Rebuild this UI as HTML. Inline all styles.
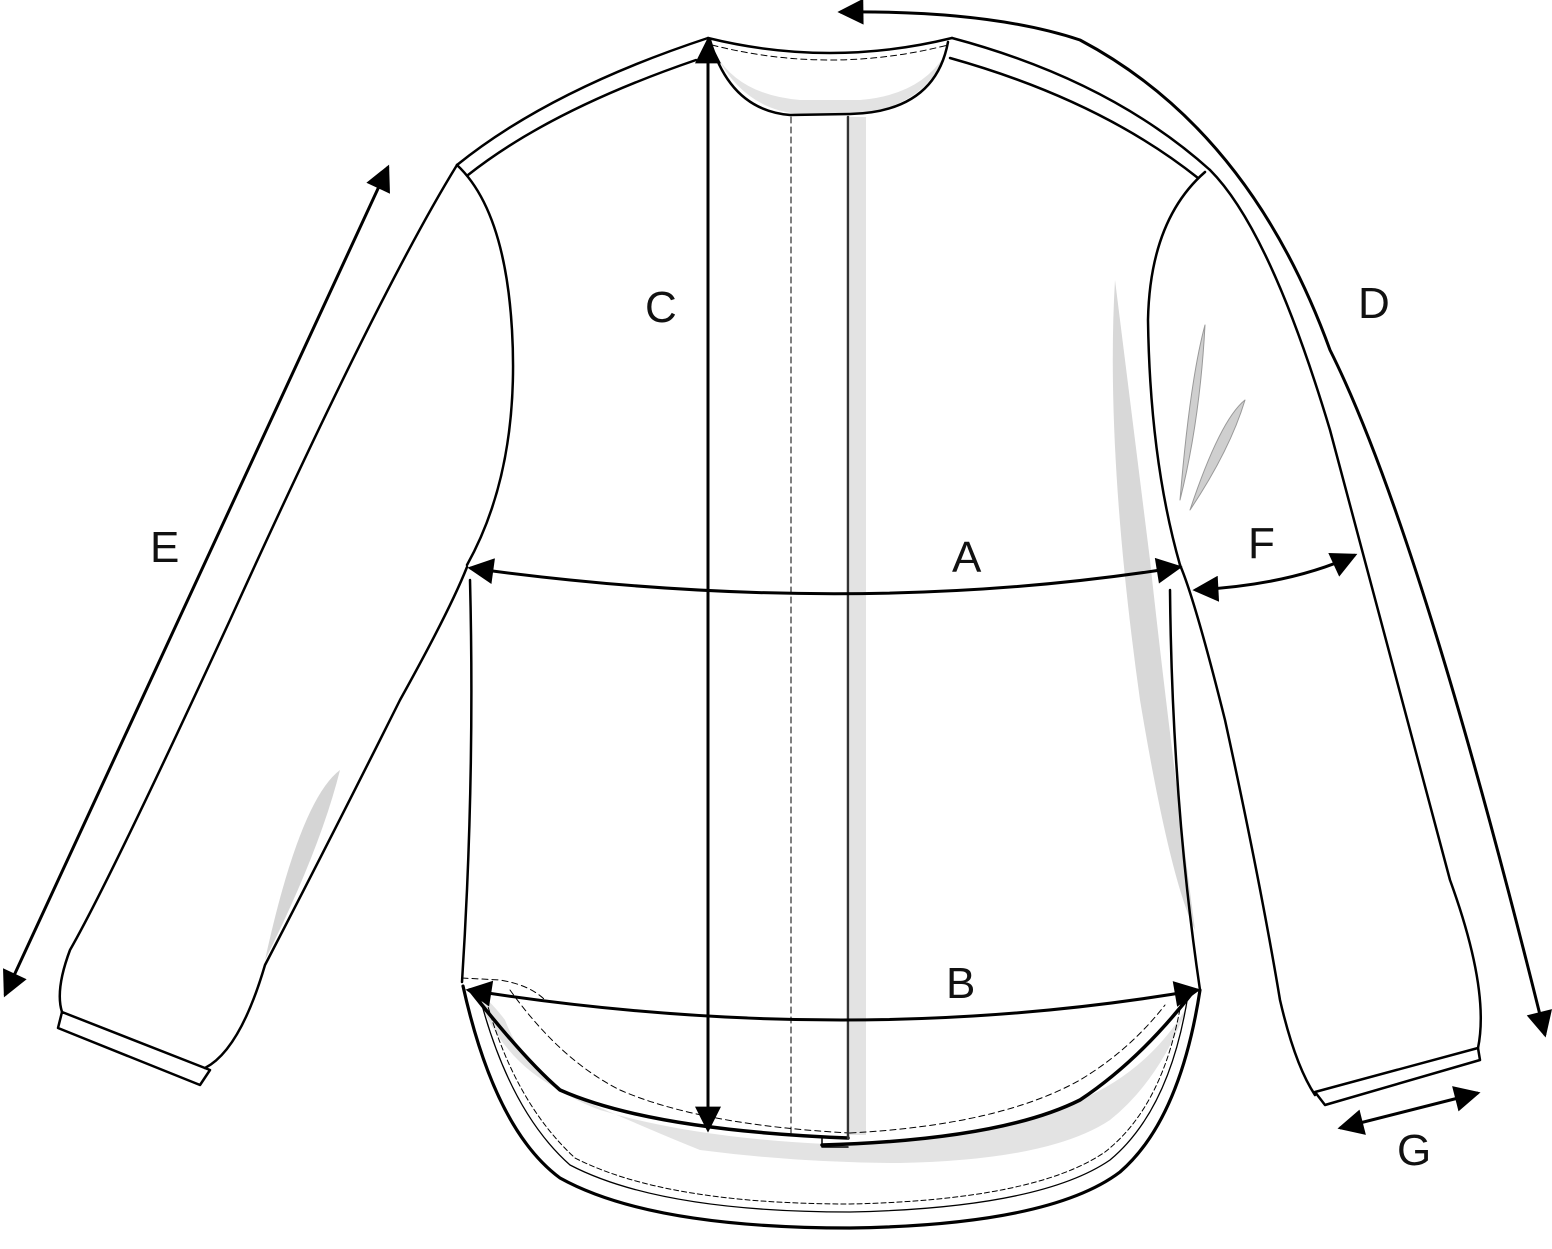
<!DOCTYPE html>
<html><head><meta charset="utf-8"><style>
html,body{margin:0;padding:0;background:#fff}
svg{display:block}
text{font-family:"Liberation Sans",sans-serif;font-size:44px;fill:#111}
</style></head><body>
<svg width="1552" height="1249" viewBox="0 0 1552 1249" xmlns="http://www.w3.org/2000/svg">
<defs>
<marker id="ah2" viewBox="0 0 10 10" refX="9" refY="5" markerWidth="36" markerHeight="26" orient="auto-start-reverse" markerUnits="userSpaceOnUse">
<path d="M0,0 L10,5 L0,10 z" fill="#000"/>
</marker>
</defs>
<g fill="none" stroke="#000" stroke-width="2.5" stroke-linejoin="round" stroke-linecap="round">
<!-- grey shadings -->
<path d="M850,117 L866,117 L866,1135 L850,1135 z" fill="#e3e3e3" stroke="none"/>
<path d="M716,55 Q745,110 800,114 L860,114 Q925,105 945,55 Q920,95 860,100 L800,100 Q740,95 716,55z" fill="#e3e3e3" stroke="none"/>
<path d="M1115,280 Q1105,450 1140,700 Q1170,880 1195,930 Q1165,700 1150,560 Q1130,400 1115,280z" fill="#d8d8d8" stroke="none"/>
<path d="M1180,500 Q1190,380 1205,325 Q1200,420 1180,500z" fill="#cfcfcf" stroke="#999" stroke-width="1"/>
<path d="M1190,510 Q1220,420 1245,400 Q1230,450 1190,510z" fill="#cfcfcf" stroke="#999" stroke-width="1"/>
<path d="M265,960 Q300,800 340,770 Q320,850 265,960z" fill="#d5d5d5" stroke="none"/>
<path d="M475,990 Q500,1060 560,1090 Q650,1130 700,1150 Q800,1163 900,1163 Q1050,1160 1110,1120 Q1160,1080 1188,1005 Q1150,1070 1080,1100 Q1000,1140 850,1145 Q700,1140 600,1110 Q530,1085 505,1020 Q490,1000 475,990z" fill="#e3e3e3" stroke="none"/>

<!-- neckline -->
<path d="M708,38 Q830,68 952,38"/>
<path d="M712,45 Q830,75 948,45" stroke-width="1" stroke-dasharray="6,4"/>
<path d="M710,40 Q730,110 790,115 L850,114 Q935,112 948,42"/>
<!-- shoulders -->
<path d="M708,38 Q550,90 457,165"/>
<path d="M696,60 Q550,110 468,175"/>
<path d="M952,38 Q1110,80 1210,170"/>
<path d="M950,58 Q1100,100 1198,178"/>
<!-- armholes -->
<path d="M457,165 Q505,210 512,330 Q520,470 467,565"/>
<path d="M1205,172 Q1150,220 1148,320 Q1150,460 1180,565"/>
<!-- body sides -->
<path d="M470,580 Q475,780 462,982"/>
<path d="M1170,590 Q1172,800 1200,990"/>
<path d="M462,978 L500,980 Q530,985 545,1000" stroke-width="1" stroke-dasharray="6,4"/>
<!-- left sleeve -->
<path d="M457,165 Q380,290 230,620 Q110,880 70,950 Q55,990 62,1012"/>
<path d="M62,1012 L210,1070 L200,1085 L58,1028 z"/>
<path d="M467,567 Q450,610 400,700 Q330,840 265,965 Q240,1050 205,1068"/>
<!-- right sleeve -->
<path d="M1210,170 Q1270,230 1330,430 Q1420,770 1450,880 Q1490,990 1478,1048"/>
<path d="M1478,1048 L1480,1060 L1325,1105 L1315,1092 z"/>
<path d="M1180,565 Q1195,600 1225,720 Q1260,880 1280,1000 Q1295,1065 1315,1095"/>
<!-- hem tail -->
<path d="M463,986 Q495,1130 560,1178 Q650,1228 850,1228 Q1050,1225 1120,1172 Q1180,1120 1200,990" stroke-width="3.2"/>
<path d="M478,990 Q508,1110 570,1165 Q660,1212 850,1212 Q1040,1208 1110,1160 Q1170,1110 1188,995" stroke-width="1.3"/>
<path d="M484,992 Q512,1100 575,1158 Q665,1204 850,1204 Q1035,1200 1105,1152 Q1165,1105 1182,997" stroke-width="1" stroke-dasharray="5,3"/>
<path d="M470,990 Q525,1060 560,1090 Q650,1130 848,1138" stroke-width="3.5"/>
<path d="M822,1145 Q1000,1140 1080,1100 Q1140,1060 1192,993" stroke-width="3.5"/>
<path d="M822,1138 L822,1147 L848,1147" stroke-width="1.5"/>
<path d="M510,990 Q560,1060 620,1090 Q700,1125 850,1133" stroke-width="1" stroke-dasharray="6,4"/>
<path d="M850,1133 Q1000,1125 1080,1080 Q1130,1050 1165,1005" stroke-width="1" stroke-dasharray="6,4"/>
<!-- placket -->
<path d="M848,117 L848,1138" stroke="#333"/>
<path d="M791,117 L791,1133" stroke-width="1" stroke-dasharray="6,4"/>
</g>

<!-- measurement lines -->
<g fill="none" stroke="#000" stroke-width="3">
<path d="M708,40 L708,1130" marker-start="url(#ah2)" marker-end="url(#ah2)"/>
<path d="M470,568 Q850,620 1180,567" marker-start="url(#ah2)" marker-end="url(#ah2)"/>
<path d="M468,990 Q850,1050 1198,990" marker-start="url(#ah2)" marker-end="url(#ah2)"/>
<path d="M1545,1035 Q1420,530 1330,350 Q1250,130 1080,40 Q990,10 840,12" marker-start="url(#ah2)" marker-end="url(#ah2)"/>
<path d="M388,167 L5,995" marker-start="url(#ah2)" marker-end="url(#ah2)"/>
<path d="M1195,590 Q1290,585 1355,555" marker-start="url(#ah2)" marker-end="url(#ah2)"/>
<path d="M1340,1128 L1478,1093" marker-start="url(#ah2)" marker-end="url(#ah2)"/>
</g>

<text x="645" y="322">C</text>
<text x="952" y="572">A</text>
<text x="946" y="998">B</text>
<text x="1358" y="318">D</text>
<text x="150" y="562">E</text>
<text x="1248" y="558">F</text>
<text x="1397" y="1165">G</text>
</svg>
</body></html>
